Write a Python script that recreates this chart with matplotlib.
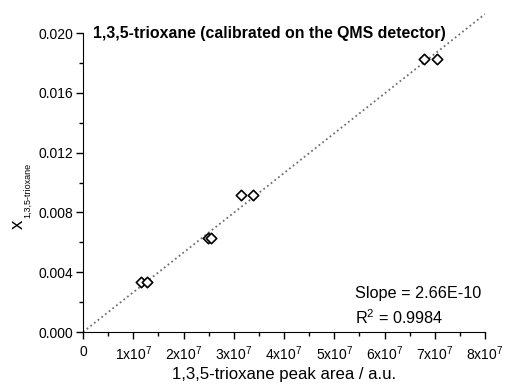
import numpy as np
import matplotlib.pyplot as plt
from matplotlib.ticker import MultipleLocator

plt.rcParams['font.family'] = ['Liberation Sans', 'DejaVu Sans']
plt.rcParams['mathtext.fontset'] = 'custom'
plt.rcParams['mathtext.rm'] = 'Liberation Sans'
plt.rcParams['mathtext.it'] = 'Liberation Sans:italic'

# data
peak_area = [1.16e7, 1.27e7, 2.48e7, 2.54e7, 3.14e7, 3.38e7, 6.79e7, 7.04e7]
x_frac = [0.00334, 0.00334, 0.00631, 0.00631, 0.00916, 0.00916, 0.01826, 0.01826]
slope = 2.66e-10
r2 = 0.9984

xticks = [0, 1e7, 2e7, 3e7, 4e7, 5e7, 6e7, 7e7, 8e7]
xticklabels = ["0"] + [f"{i}x10$^{{7}}$" for i in range(1, 9)]
yticks = [0.000, 0.004, 0.008, 0.012, 0.016, 0.020]

fig = plt.figure(figsize=(5.05, 3.88), dpi=100)
ax = fig.add_axes([0.1644, 0.1443, 0.7960, 0.8217])

x_fit = np.array([0, 8e7])
ax.plot(x_fit, slope * x_fit, color="#707070", linestyle=(0, (1, 1.6)), linewidth=1.3)
ax.scatter(peak_area, x_frac, marker="D", s=28, facecolors="white", edgecolors="black", linewidths=1.2, zorder=3)

ax.set_xlim(0, 8e7)
ax.set_ylim(0, 0.02134)
ax.set_xticks(xticks)
ax.set_xticklabels(xticklabels)
ax.set_yticks(yticks)
ax.set_yticklabels([f"{v:.3f}" for v in yticks])
ax.xaxis.set_minor_locator(MultipleLocator(0.5e7))
ax.yaxis.set_minor_locator(MultipleLocator(0.002))
ax.tick_params(which="major", direction="out", length=5, width=1, labelsize=10)
ax.tick_params(which="minor", direction="out", length=3, width=1)
ax.tick_params(axis="x", pad=4)
ax.tick_params(axis="y", pad=2)

for s in ["top", "right"]:
    ax.spines[s].set_visible(False)
ax.spines["left"].set_bounds(0, 0.020)

ax.set_xlabel("1,3,5-trioxane peak area / a.u.", fontsize=12.1, labelpad=3)

# y label: x with a small subscript
fig.text(18 / 505, 1 - 224 / 388, "x", rotation=90, fontsize=13.5, ha="center", va="center")
fig.text(27.5 / 505, 1 - 190 / 388, "1,3,5-trioxane", rotation=90, fontsize=6.5, ha="center", va="center")

ax.text(0.025, 0.937, "1,3,5-trioxane (calibrated on the QMS detector)", transform=ax.transAxes,
        fontsize=11.4, fontweight="bold", va="center", ha="left")
ax.text(0.677, 0.122, f"Slope = {slope:.2E}", transform=ax.transAxes,
        fontsize=11.7, va="center", ha="left")
ax.text(0.677, 0.044, f"R$^2$ = {r2}", transform=ax.transAxes, fontsize=11.7, va="center", ha="left")

fig.savefig("out.png", dpi=100)
